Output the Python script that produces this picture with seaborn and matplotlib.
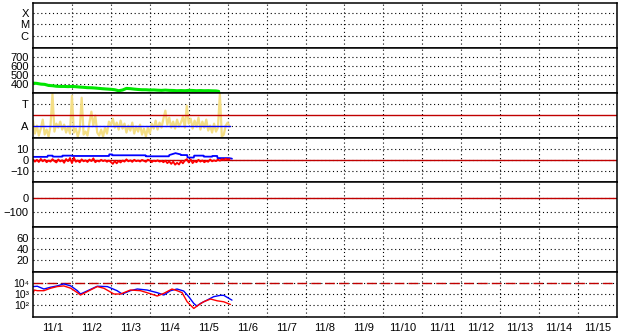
import numpy as np
import pandas as pd
import seaborn as sns
import matplotlib.pyplot as plt
from matplotlib.ticker import FixedLocator, NullLocator

# x axis: days since 11/1 00:00
day_labels = ['11/1', '11/2', '11/3', '11/4', '11/5', '11/6', '11/7', '11/8',
              '11/9', '11/10', '11/11', '11/12', '11/13', '11/14', '11/15']

# solar wind speed (km/s)
speed_t = [0.0, 0.1, 0.2, 0.3, 0.4, 0.5, 0.6, 0.7, 0.8, 0.9, 1.0, 1.1, 1.2, 1.3,
           1.4, 1.5, 1.6, 1.7, 1.8, 1.9, 2.0, 2.1, 2.2, 2.3, 2.4, 2.5, 2.6, 2.7,
           2.8, 2.9, 3.0, 3.1, 3.2, 3.3, 3.4, 3.5, 3.6, 3.7, 3.8, 3.9, 4.0, 4.1,
           4.2, 4.3, 4.4, 4.5, 4.6, 4.7, 4.77]
speed_v = [407, 404, 396, 393, 381, 378, 372, 370, 370, 368, 370, 367, 363, 360,
           356, 355, 352, 348, 344, 341, 338, 333, 322, 330, 348, 345, 340, 336,
           333, 333, 330, 331, 328, 326, 329, 326, 325, 322, 324, 322, 326, 325,
           322, 324, 322, 323, 321, 320, 315]

# yellow trace (arbitrary units, 0 = panel bottom), sampled every 0.05 day
yellow_v = [17, 4, 12, 2, 9, 18, 3, 8, 1, 12, 44, 6, 14, 10, 16, 8, 13, 5, 11, 4,
            42, 5, 9, 1, 8, 40, 3, 6, 2, 15, 26, 12, 22, 5, 2, 8, 1, 10, 4, 16,
            12, 19, 10, 15, 8, 17, 9, 14, 5, 12, 7, 15, 4, 11, 6, 13, 3, 9, 1, 10,
            4, 14, 9, 17, 8, 15, 10, 19, 27, 13, 20, 10, 16, 9, 18, 11, 15, 21, 10, 32,
            14, 19, 9, 17, 11, 20, 8, 16, 10, 18, 7, 12, 5, 14, 6, 10, 44, 1, 3, 12,
            15, 11]
level_A = 12
level_red = 22.7
level_T = 33.7

# Bz (nT)
bz_red = [0.5, -1.5, 0.2, -1.8, 1.0, -1.2, 0.3, -2.0, -0.5, -1.5, 0.8, -1.0, -2.2,
          0.5, -1.3, -0.2, -2.5, 0.9, -1.1, 1.8, -2.8, 2.2, -1.6, -0.4, -2.1, 0.6,
          -1.2, -0.3, -1.8, 0.4, -1.0, 1.5, -2.0, -0.6, -1.4, 0.2, -1.0, -0.2, -1.6,
          -0.5, -1.8, -3.5, -1.0, -3.0, -0.8, -2.2, -0.5, -1.5, 0.6, -1.2, -0.3, -1.7,
          0.2, -1.1, -0.4, -1.4, 0.1, -0.8, -1.6, 0.3, -0.5, -1.9, -0.6, -1.2, -0.3,
          -1.5, -0.8, -2.0, -0.6, -2.8, -1.2, -3.5, -1.5, -4.2, -2.5, -4.0, -1.0, -3.0,
          -0.5, 0.8, -2.2, 0.5, -2.8, -0.8, -2.0, 0.2, -1.5, -0.4, -2.0, -0.9, -1.6,
          0.5, -1.2, -0.3, -1.0, 0.4, -0.6, 0.8, 0.2, 1.2, 0.5, 0.8]
bt_t = [0.0, 0.37, 0.38, 0.5, 0.51, 0.75, 0.76, 1.0, 1.01, 1.95, 1.96, 2.03, 2.04,
        2.89, 2.9, 3.49, 3.5, 3.66, 3.79, 3.8, 3.96, 3.97, 4.13, 4.14, 4.38, 4.39,
        4.6, 4.61, 4.73, 4.74, 5.03, 5.11]
bt_v = [2.8, 2.8, 3.9, 3.9, 3.0, 3.0, 3.9, 3.9, 3.6, 3.6, 5.0, 5.0, 4.2,
        4.2, 3.3, 3.3, 4.4, 6.1, 5.0, 4.4, 4.4, 2.2, 2.2, 3.9, 3.9, 3.0,
        3.0, 3.6, 3.6, 1.7, 1.7, 1.2]

# electron flux (log10)
e_blue_t = [0.0, 0.11, 0.28, 0.45, 0.62, 0.79, 0.97, 1.14, 1.22, 1.35, 1.65, 1.91,
            2.16, 2.29, 2.50, 2.68, 2.93, 3.19, 3.36, 3.53, 3.70, 3.87, 4.00, 4.13,
            4.21, 4.30, 4.47, 4.64, 4.81, 4.90, 5.03, 5.11]
e_blue_log = [3.70, 3.73, 3.48, 3.64, 3.76, 3.94, 3.76, 3.33, 3.03, 3.24, 3.73, 3.70,
              3.33, 3.03, 3.33, 3.48, 3.39, 3.15, 2.94, 3.33, 3.48, 3.30, 2.79, 2.18,
              1.94, 2.18, 2.48, 2.79, 2.91, 2.91, 2.64, 2.48]
e_red_t = [0.0, 0.03, 0.11, 0.28, 0.45, 0.62, 0.79, 0.97, 1.14, 1.22, 1.39, 1.65,
           1.82, 2.08, 2.25, 2.50, 2.76, 2.93, 3.19, 3.36, 3.57, 3.70, 3.83, 3.96,
           4.13, 4.21, 4.38, 4.56, 4.73, 4.90, 5.07]
e_red_log = [3.05, 3.39, 3.33, 3.33, 3.55, 3.70, 3.76, 3.55, 3.15, 2.94, 3.24, 3.70,
             3.55, 3.03, 3.03, 3.39, 3.33, 3.15, 2.85, 3.09, 3.48, 3.33, 3.15, 2.33,
             1.73, 1.94, 2.33, 2.58, 2.42, 2.33, 2.09]
e_threshold = 1e4
e_tick_labels = ['10\u00b2', '10\u00b3', '10\u2074']

sample_step = 0.05
dark_red = '#c00000'

sns.set_style('white')
plt.rcParams['font.family'] = ['Liberation Sans', 'DejaVu Sans']
plt.rcParams['font.size'] = 8

fig = plt.figure(figsize=(6.28, 3.34), dpi=100)
gs = fig.add_gridspec(7, 1, left=33 / 628, right=617 / 628,
                      top=1 - 3 / 334, bottom=1 - 317 / 334, hspace=0)
axes = [fig.add_subplot(gs[i]) for i in range(7)]

yellow_t = np.arange(len(yellow_v)) * sample_step
bz_t = np.arange(len(bz_red)) * sample_step

# 1: X-ray class
ax = axes[0]
ax.set_yscale('log')
ax.set_ylim(10 ** -7.1, 10 ** -3.1)
ax.set_yticks([1e-6, 1e-5, 1e-4])
ax.set_yticklabels(['C', 'M', 'X'])

# 2: speed
ax = axes[1]
sns.lineplot(x=speed_t, y=speed_v, ax=ax, color='#00e600', linewidth=2.2)
ax.set_ylim(300, 800)
ax.set_yticks([400, 500, 600, 700])

# 3: T / A
ax = axes[2]
sns.lineplot(x=yellow_t, y=yellow_v, ax=ax, color='#f4de85', linewidth=1.6)
ax.axhline(level_red, color=dark_red, linewidth=1.0)
sns.lineplot(x=[0, yellow_t[-1]], y=[level_A, level_A], ax=ax, color='#0000ff', linewidth=1.0)
ax.set_ylim(0, 45)
ax.set_yticks([level_A, level_T])
ax.set_yticklabels(['A', 'T'])

# 4: Bz / Bt
ax = axes[3]
ax.axhline(0, color=dark_red, linewidth=1.0)
sns.lineplot(x=bt_t, y=bt_v, ax=ax, color='#0000ff', linewidth=1.3)
sns.lineplot(x=bz_t, y=bz_red, ax=ax, color='#ff0000', linewidth=1.3)
ax.set_ylim(-20, 20)
ax.set_yticks([-10, 0, 10])

# 5
ax = axes[4]
ax.axhline(0, color=dark_red, linewidth=1.0)
ax.set_ylim(-206, 108)
ax.set_yticks([-100, 0])

# 6
ax = axes[5]
ax.set_ylim(-2.8, 80.4)
ax.set_yticks([20, 40, 60])

# 7: electron flux
ax = axes[6]
ax.set_yscale('log')
ax.axhline(e_threshold, color=dark_red, linewidth=1.0, dashes=(7, 3))
sns.lineplot(x=e_blue_t, y=10 ** np.array(e_blue_log), ax=ax, color='#0000ff', linewidth=1.0)
sns.lineplot(x=e_red_t, y=10 ** np.array(e_red_log), ax=ax, color='#ff0000', linewidth=1.0)
ax.set_ylim(10 ** 0.96, 1e5)
ax.set_yticks([1e2, 1e3, 1e4])
ax.set_yticklabels(e_tick_labels, fontsize=7.5)

for i, ax in enumerate(axes):
    ax.set_xlim(0, 15)
    ax.xaxis.set_major_locator(FixedLocator(range(1, 15)))
    ax.xaxis.set_minor_locator(FixedLocator([d + 0.5 for d in range(15)]))
    ax.yaxis.set_minor_locator(NullLocator())
    ax.grid(True, which='major', color='black', linewidth=0.8, linestyle=(0, (1, 2.5)))
    ax.set_axisbelow(True)
    ax.tick_params(which='both', length=0, pad=3, colors='black')
    ax.set_xlabel('')
    ax.set_ylabel('')
    ax.set_xticklabels([])
    if i == 6:
        ax.set_xticklabels(day_labels, minor=True)
        ax.tick_params(axis='x', which='minor', pad=4)
    else:
        ax.set_xticklabels([], minor=True)
    for side in ['left', 'right', 'top', 'bottom']:
        ax.spines[side].set_visible(True)
        ax.spines[side].set_color('black')
        ax.spines[side].set_linewidth(1.1)

fig.savefig('out.png', dpi=100, facecolor='white')
